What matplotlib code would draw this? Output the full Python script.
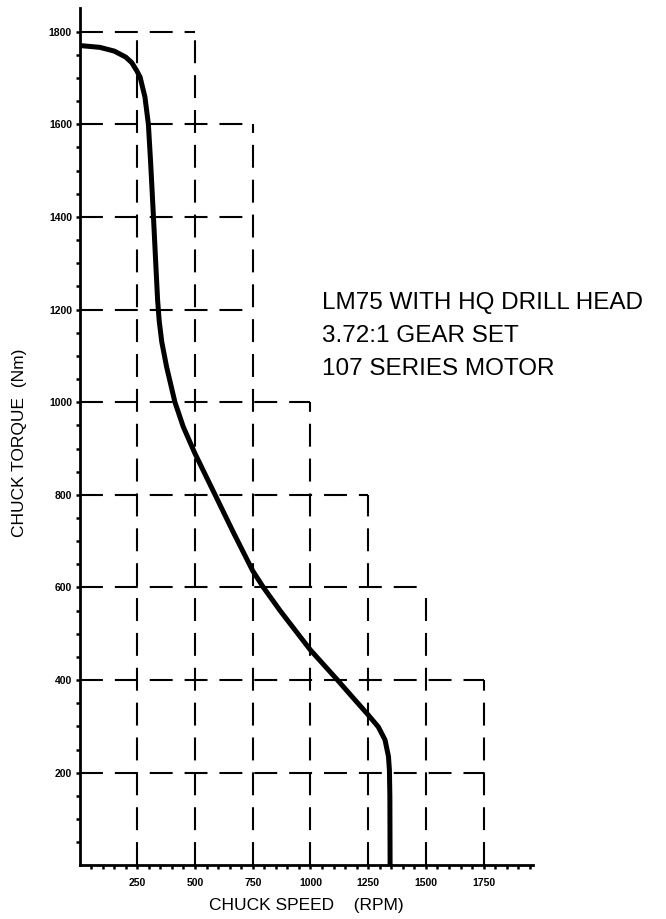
import matplotlib
matplotlib.use("Agg")
import matplotlib.pyplot as plt
from matplotlib.ticker import FixedLocator

plt.rcParams['font.family'] = ['Liberation Sans', 'DejaVu Sans']
plt.rcParams['lines.scale_dashes'] = False

# torque curve
speed = [0, 88, 150, 200, 226, 247, 262, 283, 298, 308, 320, 330, 338, 345, 356,
         377, 413, 449, 500, 587, 666, 750, 795, 870, 955, 1000, 1114, 1172,
         1250, 1294, 1323, 1338, 1342, 1344, 1345]
torque = [1770, 1766, 1758, 1745, 1733, 1716, 1702, 1659, 1600, 1515, 1400, 1299,
          1220, 1175, 1130, 1076, 1000, 947, 889, 800, 719, 636, 601, 549, 494,
          465, 402, 369, 325, 299, 271, 235, 206, 150, 0]

# stepped dashed grid: level -> how far it runs
h_levels = [200, 400, 600, 800, 1000, 1200, 1400, 1600, 1800]
h_ends = [1750, 1750, 1500, 1250, 1000, 750, 750, 750, 500]
v_levels = [250, 500, 750, 1000, 1250, 1500, 1750]
v_ends = [1800, 1800, 1600, 1000, 800, 600, 400]

x_ticks = [250, 500, 750, 1000, 1250, 1500, 1750]
y_ticks = [200, 400, 600, 800, 1000, 1200, 1400, 1600, 1800]

notes = ["LM75 WITH HQ DRILL HEAD", "3.72:1 GEAR SET", "107 SERIES MOTOR"]

fig = plt.figure(figsize=(6.66, 9.19), dpi=100)
ax = fig.add_axes([0.1195, 0.0583, 0.6808, 0.933])

dash = (16.5, 8.6)
for y, xe in zip(h_levels, h_ends):
    ax.plot([0, xe], [y, y], color='black', lw=1.5, dashes=dash, zorder=1)
for x, ye in zip(v_levels, v_ends):
    ax.plot([x, x], [0, ye], color='black', lw=1.5, dashes=dash, zorder=1)

ax.plot(speed, torque, color='black', lw=3.6, solid_capstyle='butt',
        solid_joinstyle='round', zorder=3)

ax.set_xlim(0, 1964)
ax.set_ylim(0, 1851)

for s in ['top', 'right']:
    ax.spines[s].set_visible(False)
for s in ['left', 'bottom']:
    ax.spines[s].set_linewidth(2)

ax.xaxis.set_major_locator(FixedLocator(x_ticks))
ax.yaxis.set_major_locator(FixedLocator(y_ticks))
ax.xaxis.set_minor_locator(FixedLocator([v for v in range(50, 1951, 50) if v not in x_ticks]))
ax.yaxis.set_minor_locator(FixedLocator([v for v in range(50, 1801, 50) if v not in y_ticks]))
ax.set_xticklabels([str(v) for v in x_ticks])
ax.set_yticklabels([str(v) for v in y_ticks])
ax.tick_params(axis='both', which='both', length=3, width=1.8, direction='out')
ax.tick_params(axis='x', which='major', pad=6)
ax.tick_params(axis='y', which='major', pad=2.5)
for lab in ax.get_xticklabels() + ax.get_yticklabels():
    lab.set_fontsize(7.5)
    lab.set_fontweight('bold')

ax.set_xlabel("CHUCK SPEED    (RPM)", fontsize=12.5, labelpad=7)
ax.set_ylabel("CHUCK TORQUE  (Nm)", fontsize=12.5)
ax.yaxis.set_label_coords(-0.116, 0.493)

for i, t in enumerate(notes):
    fig.text(322 / 666, 1 - (309 + i * 33) / 919, t, fontsize=17.5, va='baseline', ha='left')

fig.savefig("out.png", dpi=100)
